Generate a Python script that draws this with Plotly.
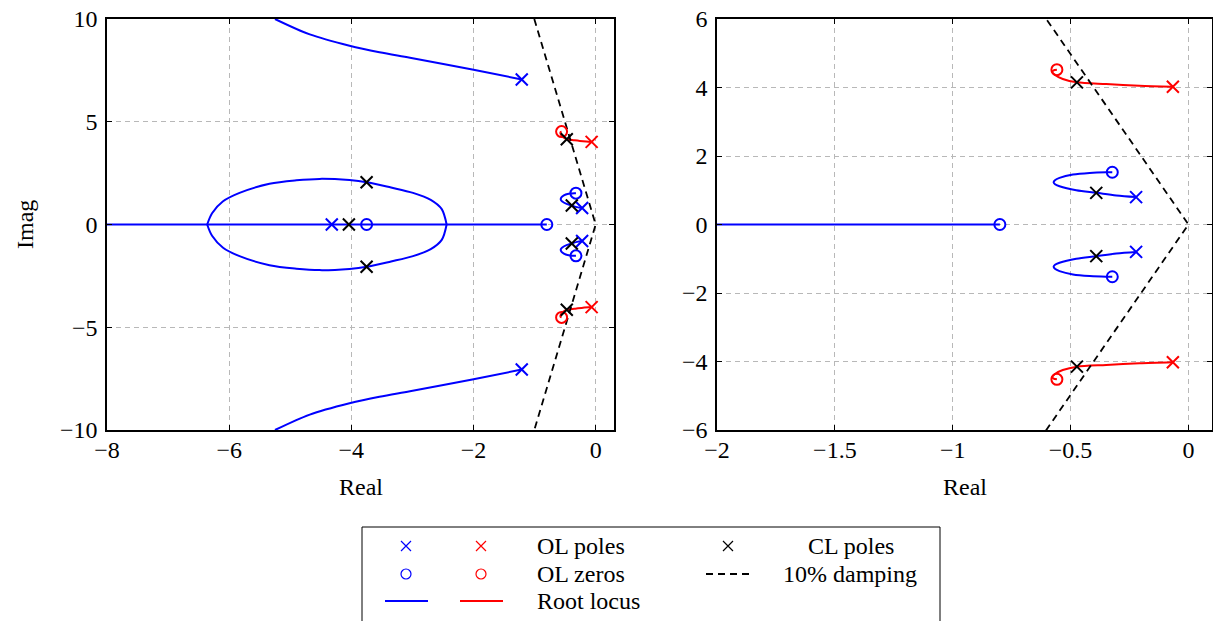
import plotly.graph_objects as go

# ---------------- data ----------------
# open-loop poles / zeros
blue_pole_re = [-1.21, -1.21, -4.32, -0.222, -0.222]
blue_pole_im = [7.06, -7.06, 0.0, 0.80, -0.80]
blue_zero_re = [-3.75, -0.80, -0.323, -0.323]
blue_zero_im = [0.0, 0.0, 1.525, -1.525]
red_pole_re = [-0.066, -0.066]
red_pole_im = [4.02, -4.02]
red_zero_re = [-0.558, -0.558]
red_zero_im = [4.52, -4.52]
# closed-loop poles
cl_re = [-0.473, -0.473, -0.391, -0.391, -3.75, -3.75, -4.04]
cl_im = [4.15, -4.15, 0.924, -0.924, 2.06, -2.06, 0.0]

# root-locus branches (upper half-plane; lower half is the conjugate)
far_re = [-1.21, -2.02, -3.04, -3.54, -4.03, -4.68, -5.25]
far_im = [7.06, 7.54, 8.11, 8.38, 8.70, 9.25, 10.0]
ell_re = [-6.36, -6.28, -6.10, -5.83, -5.34, -4.90, -4.52, -4.03, -3.75, -3.35,
          -2.99, -2.70, -2.52, -2.44]
ell_im = [0.0, 0.55, 1.13, 1.54, 1.98, 2.15, 2.22, 2.16, 2.06, 1.80,
          1.54, 1.20, 0.75, 0.0]
loop_re = [-0.222, -0.306, -0.391, -0.476, -0.547, -0.566, -0.572, -0.565, -0.547,
           -0.49, -0.419, -0.349, -0.323]
loop_im = [0.80, 0.846, 0.924, 1.0, 1.117, 1.175, 1.233, 1.30, 1.36,
           1.458, 1.507, 1.525, 1.525]
real_re = [-8.0, -0.80]
real_im = [0.0, 0.0]
red_re = [-0.066, -0.208, -0.349, -0.473, -0.533, -0.568, -0.578, -0.572, -0.558]
red_im = [4.02, 4.05, 4.10, 4.15, 4.25, 4.37, 4.45, 4.50, 4.52]
# 10 % damping line
damp_re = [-1.005, 0.0, -1.005]
damp_im = [10.0, 0.0, -10.0]

left_xticks = [-8, -6, -4, -2, 0]
left_yticks = [-10, -5, 0, 5, 10]
right_xticks = [-2, -1.5, -1, -0.5, 0]
right_yticks = [-6, -4, -2, 0, 2, 4, 6]

# ---------------- styling ----------------
W, H = 1213, 621
FONT = "Liberation Serif"
FS = 24
BLUE, RED, BLACK = "rgb(0,0,255)", "rgb(255,0,0)", "black"


def conj(v):
    return [-a for a in v]


fig = go.Figure()


def add_panel(xa, ya):
    kw = dict(xaxis=xa, yaxis=ya, showlegend=False, hoverinfo="skip")
    lw = 2
    for re_, im_ in [(far_re, far_im), (ell_re, ell_im), (loop_re, loop_im)]:
        for im_s in (im_, conj(im_)):
            fig.add_trace(go.Scatter(x=re_, y=im_s, mode="lines",
                                     line=dict(color=BLUE, width=lw, shape="spline", smoothing=0.9), **kw))
    fig.add_trace(go.Scatter(x=real_re, y=real_im, mode="lines", line=dict(color=BLUE, width=lw), **kw))
    for im_s in (red_im, conj(red_im)):
        fig.add_trace(go.Scatter(x=red_re, y=im_s, mode="lines",
                                 line=dict(color=RED, width=lw, shape="spline", smoothing=0.8), **kw))
    fig.add_trace(go.Scatter(x=damp_re, y=damp_im, mode="lines",
                             line=dict(color=BLACK, width=1.8, dash="7px,5px"), **kw))
    fig.add_trace(go.Scatter(x=blue_pole_re, y=blue_pole_im, mode="markers",
                             marker=dict(symbol="x-thin", color=BLUE, line=dict(width=2, color=BLUE), size=12), **kw))
    fig.add_trace(go.Scatter(x=red_pole_re, y=red_pole_im, mode="markers",
                             marker=dict(symbol="x-thin", color=RED, line=dict(width=2, color=RED), size=12), **kw))
    fig.add_trace(go.Scatter(x=blue_zero_re, y=blue_zero_im, mode="markers",
                             marker=dict(symbol="circle-open", color=BLUE, line=dict(width=2, color=BLUE), size=11), **kw))
    fig.add_trace(go.Scatter(x=red_zero_re, y=red_zero_im, mode="markers",
                             marker=dict(symbol="circle-open", color=RED, line=dict(width=2, color=RED), size=11), **kw))
    fig.add_trace(go.Scatter(x=cl_re, y=cl_im, mode="markers",
                             marker=dict(symbol="x-thin", color=BLACK, line=dict(width=2, color=BLACK), size=12), **kw))


add_panel("x", "y")
add_panel("x2", "y2")

ydom = [(H - 430) / H, (H - 19) / H]
axis_common = dict(showline=True, linecolor="black", linewidth=1.5, mirror="ticks",
                   ticks="inside", ticklen=5, tickwidth=1, tickcolor="black",
                   showgrid=True, gridcolor="#b8b8b8", gridwidth=1, griddash="5px,4px",
                   zeroline=False, automargin=False,
                   tickfont=dict(family=FONT, size=FS, color="black"), tickmode="array")

fig.update_layout(
    width=W, height=H, autosize=False,
    margin=dict(l=0, r=0, t=0, b=0),
    paper_bgcolor="white", plot_bgcolor="white",
    font=dict(family=FONT, size=FS, color="black"),
    xaxis=dict(domain=[107 / W, 614 / W], range=[-8, 0.3], tickvals=left_xticks, anchor="y",
               ticklabelstandoff=-3, **axis_common),
    yaxis=dict(domain=ydom, range=[-10, 10], tickvals=left_yticks, anchor="x",
               ticklabelstandoff=3, **axis_common),
    xaxis2=dict(domain=[717 / W, 1212 / W], range=[-2, 0.1], tickvals=right_xticks, anchor="y2",
                ticklabelstandoff=-3, **axis_common),
    yaxis2=dict(domain=ydom, range=[-6, 6], tickvals=right_yticks, anchor="x2",
                ticklabelstandoff=3, **axis_common),
    xaxis3=dict(domain=[362 / W, 940 / W], range=[362, 940], visible=False, anchor="y3", fixedrange=True),
    yaxis3=dict(domain=[0, (H - 527) / H], range=[621, 527], visible=False, anchor="x3", fixedrange=True),
)

# axis titles
ann = []
for cx in [(107 + 614) / 2, (717 + 1212) / 2]:
    ann.append(dict(text="Real", x=cx / W, y=(H - 487) / H, xref="paper", yref="paper",
                    showarrow=False, xanchor="center", yanchor="middle", font=dict(family=FONT, size=FS)))
ann.append(dict(text="Imag", x=25 / W, y=(H - 225) / H, xref="paper", yref="paper", textangle=-90,
                showarrow=False, xanchor="center", yanchor="middle", font=dict(family=FONT, size=FS)))

# ---------------- legend (drawn on a hidden axis) ----------------
lk = dict(xaxis="x3", yaxis="y3", showlegend=False, hoverinfo="skip")
r1, r2, r3 = 546, 574, 601
c1, c2, c4 = 406, 481, 728
fig.add_trace(go.Scatter(x=[c1], y=[r1], mode="markers",
                         marker=dict(symbol="x-thin", size=10, line=dict(width=1.2, color=BLUE)), **lk))
fig.add_trace(go.Scatter(x=[c2], y=[r1], mode="markers",
                         marker=dict(symbol="x-thin", size=10, line=dict(width=1.2, color=RED)), **lk))
fig.add_trace(go.Scatter(x=[c4], y=[r1], mode="markers",
                         marker=dict(symbol="x-thin", size=10, line=dict(width=1.2, color=BLACK)), **lk))
fig.add_trace(go.Scatter(x=[c1], y=[r2], mode="markers",
                         marker=dict(symbol="circle-open", size=10, color=BLUE, line=dict(width=1.2, color=BLUE)), **lk))
fig.add_trace(go.Scatter(x=[c2], y=[r2], mode="markers",
                         marker=dict(symbol="circle-open", size=10, color=RED, line=dict(width=1.2, color=RED)), **lk))
fig.add_trace(go.Scatter(x=[706, 750], y=[r2, r2], mode="lines",
                         line=dict(color=BLACK, width=1.8, dash="7px,5px"), **lk))
fig.add_trace(go.Scatter(x=[385, 428], y=[r3, r3], mode="lines", line=dict(color=BLUE, width=2), **lk))
fig.add_trace(go.Scatter(x=[460, 503], y=[r3, r3], mode="lines", line=dict(color=RED, width=2), **lk))

for txt, x, y, xa in [("OL poles", 535, r1, "left"), ("OL zeros", 535, r2, "left"),
                      ("Root locus", 535, r3, "left"), ("CL poles", 851, r1, "center"),
                      ("10% damping", 850, r2, "center")]:
    ann.append(dict(text=txt, x=x, y=y, xref="x3", yref="y3", showarrow=False,
                    xanchor=xa, yanchor="middle", font=dict(family=FONT, size=FS)))

fig.update_layout(annotations=ann)
fig.add_shape(type="rect", xref="paper", yref="paper", x0=362 / W, x1=940 / W,
              y0=-0.02, y1=(H - 527) / H, line=dict(color="black", width=1), fillcolor="rgba(0,0,0,0)")

fig.write_html("out.html")
